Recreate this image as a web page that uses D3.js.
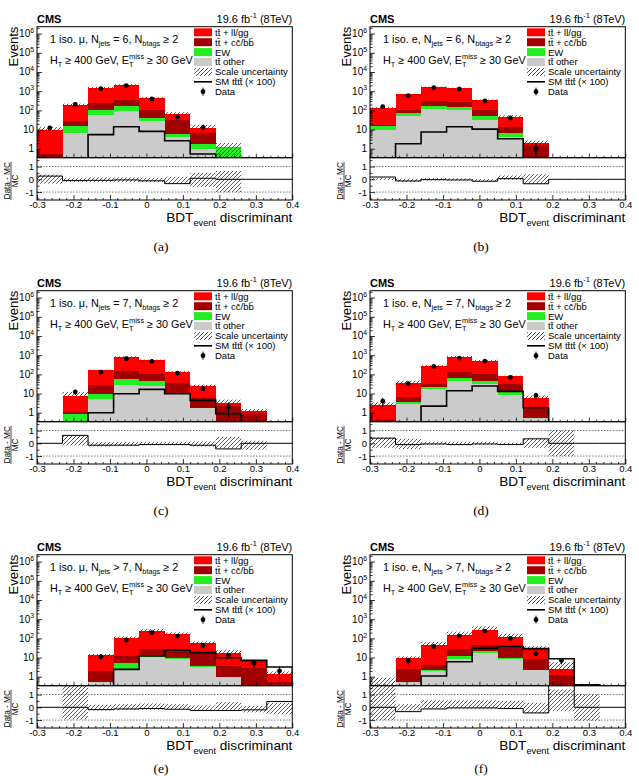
<!DOCTYPE html>
<html>
<head>
<meta charset="utf-8">
<title>BDT event discriminant</title>
<script src="https://d3js.org/d3.v7.min.js"></script>
<style>
  body { margin: 0; background: #fff; }
  svg text { font-family: "Liberation Sans", Arial, Helvetica, sans-serif; fill: #000; }
</style>
</head>
<body>
<script>
// binning of the BDT output (10 bins of 0.07)
let binEdges = [-0.3, -0.23, -0.16, -0.09, -0.02, 0.05, 0.12, 0.19, 0.26, 0.33, 0.4];
let xTicks = [-0.3, -0.2, -0.1, 0, 0.1, 0.2, 0.3, 0.4];
let decadeTicks = [1, 10, 100, 1e3, 1e4, 1e5, 1e6];
let ratioTicks = [-1, 0, 1];

let captions = ["(a)", "(b)", "(c)", "(d)", "(e)", "(f)"];
let leptons = ["\u03bc", "e", "\u03bc", "e", "\u03bc", "e"];
let jetCuts = ["= 6", "= 6", "= 7", "= 7", "> 7", "> 7"];

// one row per panel (a)..(f), one value per bin
let ttOther = [
  [0.2, 7, 59, 89, 27, 3.9, 1.0, 0, 0, 0],
  [9.5, 49, 115, 108, 32, 4.1, 0, 0, 0, 0],
  [0, 0, 5.4, 29, 24, 9, 1.7, 0, 0, 0],
  [0.1, 2.8, 16.5, 43, 32, 8, 0.5, 0, 0, 0],
  [0, 0, 0.5, 2.4, 11, 8.7, 3.2, 1.0, 0, 0],
  [0, 0.53, 2.0, 8, 18, 8.7, 2.2, 0, 0, 0]
];
let ewk = [
  [0.05, 7.5, 49, 73, 13, 1.9, 0.75, 1.2, 0, 0],
  [5, 24, 47, 40, 17, 2.5, 0, 0, 0, 0],
  [0, 0.85, 4.4, 26, 19, 2, 0, 0, 0, 0],
  [0, 0.7, 5.5, 22, 13, 4, 0, 0, 0, 0],
  [0, 0, 0.05, 2.6, 2, 1.1, 0.4, 0, 0, 0],
  [0, 0, 0.2, 4, 4, 1.1, 0, 0, 0, 0]
];
let ttHF = [
  [0.3, 14.5, 132, 171, 60, 26, 4.85, 0, 0, 0],
  [3, 36, 133, 122, 51, 6.4, 1.5, 0, 0, 0],
  [0, 0.25, 17.2, 89, 65, 26, 3.9, 2.2, 1.0, 0],
  [0.3, 3.3, 10, 67, 55, 18, 1.5, 0, 0, 0],
  [0, 0, 1.45, 7, 16, 12.2, 14.4, 2.6, 2.95, 0.5],
  [0, 1.87, 1.7, 15, 21, 22.2, 5.8, 1.3, 0, 0]
];
let ttLF = [
  [9.25, 169, 1230, 1670, 340, 35, 5.4, 0, 0, 0],
  [115, 571, 1295, 1130, 260, 30, 0.4, 0, 0, 0],
  [0, 6.3, 135, 656, 429, 95, 19.4, 1.0, 0.3, 0],
  [2.0, 28, 238, 668, 415, 52, 3.8, 0, 0, 0],
  [0, 0, 11, 88, 211, 140, 41, 14.4, 3.6, 0.9],
  [0.3, 6.7, 39, 117, 227, 85, 21, 1.1, 0.1, 0]
];
let tttt100 = [
  [0, 0, 5.4, 14, 8, 2.6, 0.53, 0, 0, 0],
  [0, 1.8, 7.4, 14, 10.5, 3.3, 0, 0, 0, 0],
  [0, 0, 1.0, 9.8, 16.5, 9.8, 4.4, 0.9, 0, 0],
  [0, 0, 2.2, 14, 24.6, 13, 1.8, 0, 0, 0],
  [0, 0, 0, 2.4, 12, 24, 18, 9.8, 7.1, 3.2],
  [0, 0, 1.08, 6, 30, 37, 29, 8.7, 0.38, 0]
];
let dataCounts = [
  [12, 205, 1350, 1940, 390, 45, 13, 0, 0, 0],
  [155, 580, 1550, 1300, 310, 40, 1, 0, 0, 0],
  [0, 12, 132, 660, 475, 117, 18, 2, 0, 0],
  [4, 33, 260, 710, 490, 70, 8, 0, 0, 0],
  [0, 0, 11, 82, 200, 132, 43, 13, 5, 2],
  [0, 7, 38, 132, 240, 100, 16, 7, 0, 0]
];
// (data - MC) / MC and the scale uncertainty band
let ratioVals = [
  [0.25, -0.1, -0.08, -0.05, -0.12, -0.34, 0.08, 0, 0, 0],
  [0.18, -0.13, -0.03, -0.05, -0.15, 0.05, -0.35, 0, 0, 0],
  [0, 0.62, -0.15, -0.15, -0.1, -0.1, -0.15, -0.44, 0, 0],
  [0.4, -0.1, -0.05, -0.1, -0.05, -0.1, 0.35, 0, 0, 0],
  [0, 0, -0.18, -0.13, -0.1, -0.15, -0.25, -0.25, -0.2, 0.45],
  [0, -0.34, -0.13, -0.05, -0.05, -0.1, -0.44, 2.1, 0, 0]
];
let bandUp = [
  [0.36, 0.12, 0.15, 0.15, 0.12, 0.2, 0.5, 0.65, 0, 0],
  [0.12, 0.05, 0.1, 0.08, 0.02, 0.3, 0.4, 0, 0, 0],
  [0, 0.65, 0.08, 0.1, 0.1, 0.1, 0.15, 0.5, 0.2, 0],
  [0.45, 0.35, 0.13, 0.12, 0.12, 0.05, 0.35, 1.0, 0, 0],
  [0, 1.8, 0.2, 0.25, 0.3, 0.25, 0.15, 0.4, 0.1, 0.35],
  [2.0, 0.25, 0.55, 0.55, 0.55, 0.5, 0.35, 1.4, 1.0, 0]
];
let bandDown = [
  [-0.34, -0.22, -0.22, -0.22, -0.22, -0.35, -0.6, -1.0, 0, 0],
  [-0.05, -0.2, -0.1, -0.1, -0.22, -0.05, -0.35, 0, 0, 0],
  [0, -0.18, -0.25, -0.2, -0.15, -0.15, -0.25, -0.4, -0.5, 0],
  [-0.35, -0.45, -0.13, -0.15, -0.12, -0.08, -0.35, -1.0, 0, 0],
  [0, -0.95, -0.25, -0.2, -0.2, -0.15, -0.25, -0.2, -0.4, -0.55],
  [-1.0, -0.25, -0.1, -0.1, -0.1, -0.1, -0.45, -0.3, -1.05, 0]
];

let keys = ["other", "ew", "hf", "lf"];
let colors = { other: "#cbcbcb", ew: "#22ee22", hf: "#a00000", lf: "#ff0000" };
let yFloor = 0.3;

let svg = d3.select("body").append("svg")
    .attr("width", 639)
    .attr("height", 776);
let defs = svg.append("defs");
let pat = defs.append("pattern")
    .attr("id", "hatch")
    .attr("patternUnits", "userSpaceOnUse")
    .attr("width", 4).attr("height", 4);
pat.append("path")
    .attr("d", "M-1,1 l2,-2 M0,4 l4,-4 M3,5 l2,-2")
    .attr("stroke", "#333").attr("stroke-width", 0.8);

// text with sub/superscript pieces
function richText(sel, parts, size) {
    let t = sel.append("text").attr("font-size", size);
    let cur = 0;
    parts.forEach(p => {
        let target = p.s === "sub" ? size * 0.3 : p.s === "sup" ? -size * 0.42 : 0;
        let ts = t.append("tspan").attr("dy", target - cur).text(p.t);
        if (p.s) ts.attr("font-size", size * 0.68);
        if (p.dx) ts.attr("dx", p.dx);
        cur = target;
    });
    return t;
}

function stepPoints(vals, floor) {
    let pts = [[binEdges[0], floor]];
    vals.forEach((v, i) => {
        let vv = Math.max(v, floor);
        pts.push([binEdges[i], vv], [binEdges[i + 1], vv]);
    });
    pts.push([binEdges[binEdges.length - 1], floor]);
    return pts;
}

d3.range(6).forEach(p => {
    let ox = (p % 2) * 333, oy = Math.floor(p / 2) * 264;
    let left = 37 + ox, right = 292.3 + ox;
    let top = 26.7 + oy, mid = 157.7 + oy, bottom = 200 + oy;

    let x = d3.scaleLinear().domain([-0.3, 0.4]).range([left, right]);
    let y = d3.scaleLog().domain([0.34, 2.3e6]).range([mid, top]);
    let r = d3.scaleLinear().domain([-1.62, 1.69]).range([bottom, mid]);

    defs.append("clipPath").attr("id", "cu" + p).append("rect")
        .attr("x", left).attr("y", top).attr("width", right - left).attr("height", mid - top);
    defs.append("clipPath").attr("id", "cr" + p).append("rect")
        .attr("x", left).attr("y", mid).attr("width", right - left).attr("height", bottom - mid);

    let g = svg.append("g");
    let up = g.append("g").attr("clip-path", "url(#cu" + p + ")");
    let rp = g.append("g").attr("clip-path", "url(#cr" + p + ")");

    // stacked backgrounds
    let rows = ttOther[p].map((v, i) => ({ other: v, ew: ewk[p][i], hf: ttHF[p][i], lf: ttLF[p][i] }));
    let stacked = d3.stack().keys(keys)(rows);
    stacked.forEach(s => {
        up.append("g").selectAll("rect")
            .data(s.map((d, i) => ({ lo: d[0], hi: d[1], i: i })).filter(d => d.hi > d.lo))
            .join("rect")
            .attr("x", d => x(binEdges[d.i]))
            .attr("width", d => x(binEdges[d.i + 1]) - x(binEdges[d.i]))
            .attr("y", d => y(Math.max(d.hi, yFloor)))
            .attr("height", d => y(Math.max(d.lo, yFloor)) - y(Math.max(d.hi, yFloor)))
            .attr("fill", colors[s.key])
            .attr("shape-rendering", "crispEdges");
    });

    // scale uncertainty on the total
    let totals = rows.map((d, i) => ({ t: d.other + d.ew + d.hf + d.lf, i: i }));
    up.append("g").selectAll("rect")
        .data(totals.filter(d => d.t > 0))
        .join("rect")
        .attr("x", d => x(binEdges[d.i]))
        .attr("width", d => x(binEdges[d.i + 1]) - x(binEdges[d.i]))
        .attr("y", d => y(Math.max(d.t * (1 + bandUp[p][d.i]), yFloor)))
        .attr("height", d => y(Math.max(d.t * (1 + bandDown[p][d.i]), yFloor)) - y(Math.max(d.t * (1 + bandUp[p][d.i]), yFloor)))
        .attr("fill", "url(#hatch)");

    // SM tttt x 100
    up.append("path")
        .attr("d", d3.line().x(d => x(d[0])).y(d => y(d[1]))(stepPoints(tttt100[p], 0.28)))
        .attr("fill", "none").attr("stroke", "#000").attr("stroke-width", 1.6);

    // data
    let pts = dataCounts[p].map((n, i) => ({ n: n, c: (binEdges[i] + binEdges[i + 1]) / 2 })).filter(d => d.n > 0);
    up.append("g").selectAll("line")
        .data(pts).join("line")
        .attr("x1", d => x(d.c)).attr("x2", d => x(d.c))
        .attr("y1", d => y(Math.max(d.n - Math.sqrt(d.n), 0.28)))
        .attr("y2", d => y(d.n + Math.sqrt(d.n)))
        .attr("stroke", "#000").attr("stroke-width", 1);
    up.append("g").selectAll("circle")
        .data(pts).join("circle")
        .attr("cx", d => x(d.c)).attr("cy", d => y(d.n))
        .attr("r", 2.4).attr("fill", "#000");

    // ratio panel
    rp.append("g").selectAll("line")
        .data([-1, 1]).join("line")
        .attr("x1", left).attr("x2", right)
        .attr("y1", d => r(d)).attr("y2", d => r(d))
        .attr("stroke", "#555").attr("stroke-width", 0.8).attr("stroke-dasharray", "1.5,1.5");
    rp.append("g").selectAll("rect")
        .data(bandUp[p].map((u, i) => ({ u: u, d: bandDown[p][i], i: i })).filter(d => d.u > d.d))
        .join("rect")
        .attr("x", d => x(binEdges[d.i]))
        .attr("width", d => x(binEdges[d.i + 1]) - x(binEdges[d.i]))
        .attr("y", d => r(d.u))
        .attr("height", d => r(d.d) - r(d.u))
        .attr("fill", "url(#hatch)");
    let rpts = [];
    ratioVals[p].forEach((v, i) => rpts.push([binEdges[i], v], [binEdges[i + 1], v]));
    rp.append("path")
        .attr("d", d3.line().x(d => x(d[0])).y(d => r(d[1]))(rpts))
        .attr("fill", "none").attr("stroke", "#000").attr("stroke-width", 1);

    // frames
    g.append("rect").attr("x", left).attr("y", top).attr("width", right - left).attr("height", mid - top)
        .attr("fill", "none").attr("stroke", "#000").attr("stroke-width", 1);
    g.append("rect").attr("x", left).attr("y", mid).attr("width", right - left).attr("height", bottom - mid)
        .attr("fill", "none").attr("stroke", "#000").attr("stroke-width", 1);

    // axes, ticks pointing inward
    let minorY = y.ticks().filter(v => decadeTicks.indexOf(v) < 0);
    g.append("g").attr("transform", "translate(" + left + ",0)")
        .call(d3.axisLeft(y).tickValues(minorY).tickSizeInner(-2.5).tickSizeOuter(0).tickFormat(""));
    g.append("g").attr("transform", "translate(" + left + ",0)")
        .call(d3.axisLeft(y).tickValues(decadeTicks).tickSizeInner(-5).tickSizeOuter(0).tickFormat(""));
    let minorX = d3.range(-0.28, 0.4, 0.02).map(v => +v.toFixed(2)).filter(v => Math.abs(v * 10 - Math.round(v * 10)) > 1e-6);
    [mid, bottom].forEach(yy => {
        g.append("g").attr("transform", "translate(0," + yy + ")")
            .call(d3.axisBottom(x).tickValues(minorX).tickSizeInner(-2).tickSizeOuter(0).tickFormat(""));
    });
    g.append("g").attr("transform", "translate(0," + mid + ")")
        .call(d3.axisBottom(x).tickValues(xTicks).tickSizeInner(-4).tickSizeOuter(0).tickFormat(""));
    let xa = g.append("g").attr("transform", "translate(0," + bottom + ")")
        .call(d3.axisBottom(x).tickValues(xTicks).tickSizeInner(-5).tickSizeOuter(0).tickPadding(1.5)
            .tickFormat(d => String(d)));
    xa.selectAll("text").attr("font-size", 9.5).attr("font-family", null);
    let ra = g.append("g").attr("transform", "translate(" + left + ",0)")
        .call(d3.axisLeft(r).tickValues(ratioTicks).tickSizeInner(-5).tickSizeOuter(0).tickPadding(3)
            .tickFormat(d => String(d)));
    ra.selectAll("text").attr("font-size", 9.5).attr("font-family", null);
    g.append("g").attr("transform", "translate(" + left + ",0)")
        .call(d3.axisLeft(r).tickValues([-1.5, -0.5, 0.5, 1.5]).tickSizeInner(-2.5).tickSizeOuter(0).tickFormat(""));
    g.selectAll(".domain").remove();
    g.selectAll(".tick line").attr("stroke", "#000").attr("stroke-width", 0.8);

    // decade labels
    decadeTicks.forEach(d => {
        let e = Math.round(Math.log10(d));
        let t = g.append("text").attr("x", left - 3).attr("y", y(d) + 3.5)
            .attr("text-anchor", "end").attr("font-size", 10);
        if (e === 0) t.text("1");
        else if (e === 1) t.text("10");
        else {
            t.append("tspan").text("10");
            t.append("tspan").attr("dy", -4.2).attr("font-size", 6.8).text(String(e));
        }
    });

    // titles
    g.append("text").attr("transform", "translate(" + (left - 19) + "," + top + ") rotate(-90)")
        .attr("text-anchor", "end").attr("font-size", 13).text("Events");
    let cy = (mid + bottom) / 2 + 2;
    g.append("text").attr("transform", "translate(" + (left - 27.5) + "," + cy + ") rotate(-90)")
        .attr("text-anchor", "middle").attr("font-size", 8.2).text("Data - MC");
    g.append("line").attr("x1", left - 26).attr("x2", left - 26).attr("y1", cy - 19).attr("y2", cy + 19)
        .attr("stroke", "#000").attr("stroke-width", 0.7);
    g.append("text").attr("transform", "translate(" + (left - 18.8) + "," + cy + ") rotate(-90)")
        .attr("text-anchor", "middle").attr("font-size", 8.2).text("MC");
    richText(g, [{ t: "BDT" }, { t: "event", s: "sub" }, { t: " discriminant" }], 13.6)
        .attr("x", right).attr("y", bottom + 22).attr("text-anchor", "end");

    // header
    g.append("text").attr("x", left).attr("y", top - 4).attr("font-size", 11)
        .attr("font-weight", "bold").text("CMS");
    richText(g, [{ t: "19.6 fb" }, { t: "-1", s: "sup" }, { t: " (8TeV)" }], 11)
        .attr("x", right).attr("y", top - 4).attr("text-anchor", "end");

    // selection text
    richText(g, [{ t: "1 iso. " + leptons[p] + ", N" }, { t: "jets", s: "sub" }, { t: " " + jetCuts[p] + ", N" },
        { t: "btags", s: "sub" }, { t: " \u2265 2" }], 10.8)
        .attr("x", left + 13).attr("y", top + 16);
    richText(g, [{ t: "H" }, { t: "T", s: "sub" }, { t: " \u2265 400 GeV, E" }, { t: "T", s: "sub" },
        { t: "miss", s: "sup", dx: -4.5 }, { t: " \u2265 30 GeV" }], 10.8)
        .attr("x", left + 13).attr("y", top + 37);

    // legend
    let lx = 194 + ox, ly = 32.3 + oy, step = 9.9;
    let entries = [
        { k: "box", c: colors.lf, t: "tt\u0304 + ll/gg" },
        { k: "box", c: colors.hf, t: "tt\u0304 + cc\u0304/bb\u0304" },
        { k: "box", c: colors.ew, t: "EW" },
        { k: "box", c: colors.other, t: "tt\u0304 other" },
        { k: "box", c: "url(#hatch)", t: "Scale uncertainty" },
        { k: "line", t: "SM tt\u0304tt\u0304 (\u00d7 100)" },
        { k: "dot", t: "Data" }
    ];
    entries.forEach((e, i) => {
        let yy = ly + i * step;
        if (e.k === "box") {
            g.append("rect").attr("x", lx).attr("y", yy - 4).attr("width", 18).attr("height", 8).attr("fill", e.c);
        } else if (e.k === "line") {
            g.append("line").attr("x1", lx).attr("x2", lx + 18).attr("y1", yy).attr("y2", yy)
                .attr("stroke", "#000").attr("stroke-width", 1.6);
        } else {
            g.append("line").attr("x1", lx + 9).attr("x2", lx + 9).attr("y1", yy - 4).attr("y2", yy + 4)
                .attr("stroke", "#000").attr("stroke-width", 1);
            g.append("circle").attr("cx", lx + 9).attr("cy", yy).attr("r", 2.4).attr("fill", "#000");
        }
        g.append("text").attr("x", lx + 21).attr("y", yy + 3.4).attr("font-size", 9.5).text(e.t);
    });

    // sub-figure caption (last row sits at the bottom edge)
    svg.append("text").attr("x", 161 + (p % 2) * 320).attr("y", Math.min(251 + oy, 773))
        .attr("text-anchor", "middle").attr("font-size", 13.5)
        .style("font-family", "'Liberation Serif', 'DejaVu Serif', serif")
        .text(captions[p]);
});
</script>
</body>
</html>
